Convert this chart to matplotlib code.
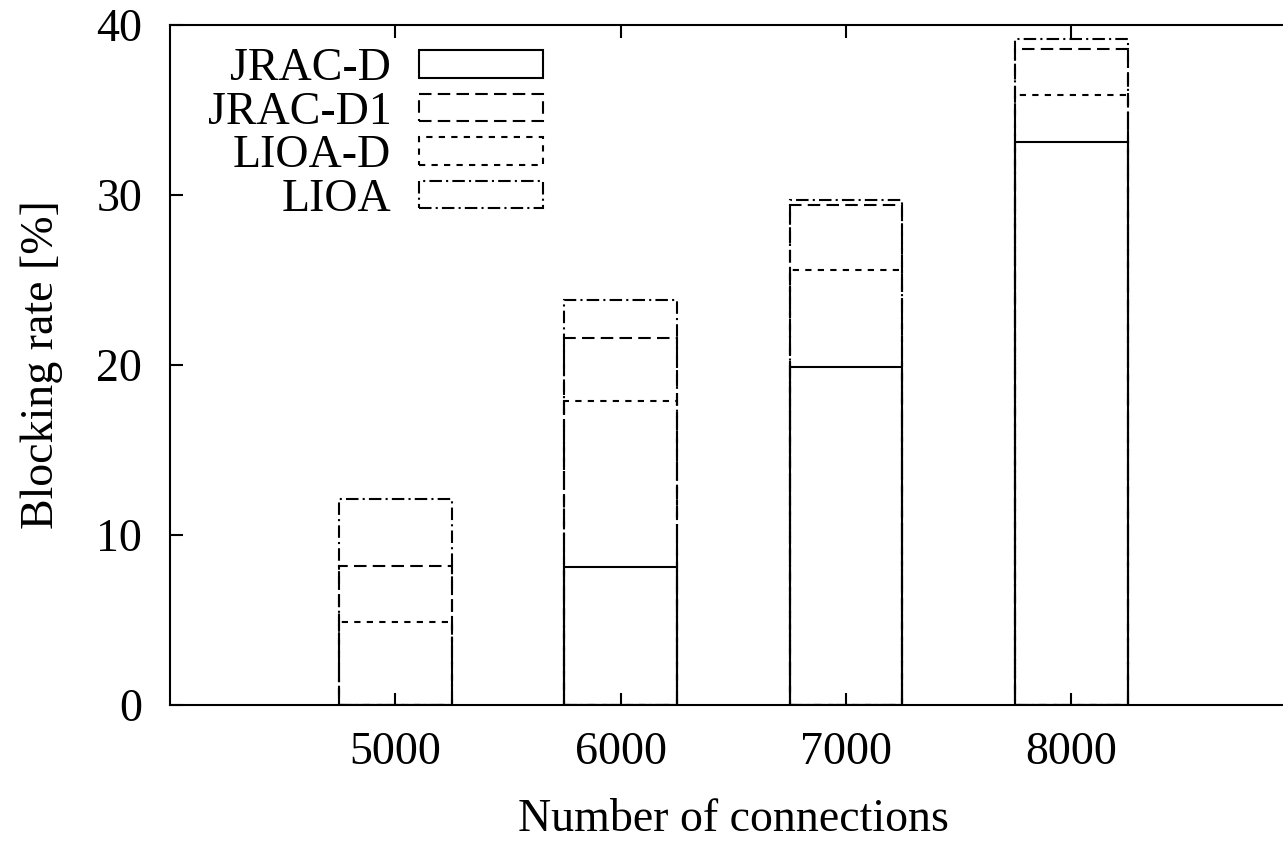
import numpy as np
import matplotlib.pyplot as plt
from matplotlib.patches import Rectangle

connections = [5000, 6000, 7000, 8000]
jrac_d = [0.0, 8.1, 19.9, 33.1]
jrac_d1 = [8.2, 21.6, 29.4, 38.6]
lioa_d = [4.9, 17.9, 25.6, 35.9]
lioa = [12.1, 23.8, 29.7, 39.2]

series = [
    ('JRAC-D', jrac_d, '-'),
    ('JRAC-D1', jrac_d1, (0, (6, 3))),
    ('LIOA-D', lioa_d, (0, (3, 3))),
    ('LIOA', lioa, (0, (6, 2, 1, 2))),
]

plt.rcParams['font.family'] = ['Liberation Serif', 'DejaVu Serif']
plt.rcParams['font.size'] = 33

fig = plt.figure(figsize=(12.83, 8.42), dpi=100)
ax = fig.add_axes([0.1325, 0.1627, 0.878, 0.8076])

handles = []
for nome, valores, estilo in series:
    ax.bar(connections, valores, width=500, facecolor='none', edgecolor='black',
           linewidth=1.5, linestyle=estilo)
    handles.append(Rectangle((0, 0), 1, 1, facecolor='none', edgecolor='black',
                             linewidth=1.5, linestyle=estilo, label=nome))

ax.set_xlim(4000, 9000)
ax.set_ylim(0, 40)
ax.set_xticks(connections)
ax.set_yticks([0, 10, 20, 30, 40])
ax.tick_params(direction='in', length=9, width=1.5, top=True, right=True)
ax.tick_params(axis='x', pad=19)
ax.tick_params(axis='y', pad=20)
for s in ax.spines.values():
    s.set_linewidth(1.5)

ax.set_xlabel('Number of connections', labelpad=18)
ax.set_ylabel('Blocking rate [%]', labelpad=24)

ax.legend(handles=handles, loc='upper left', frameon=False, markerfirst=False,
          handlelength=2.7, handleheight=0.55, labelspacing=0.02, handletextpad=0.6,
          borderaxespad=0.1, bbox_to_anchor=(0.013, 1.0))

fig.savefig('out.png', dpi=100)
